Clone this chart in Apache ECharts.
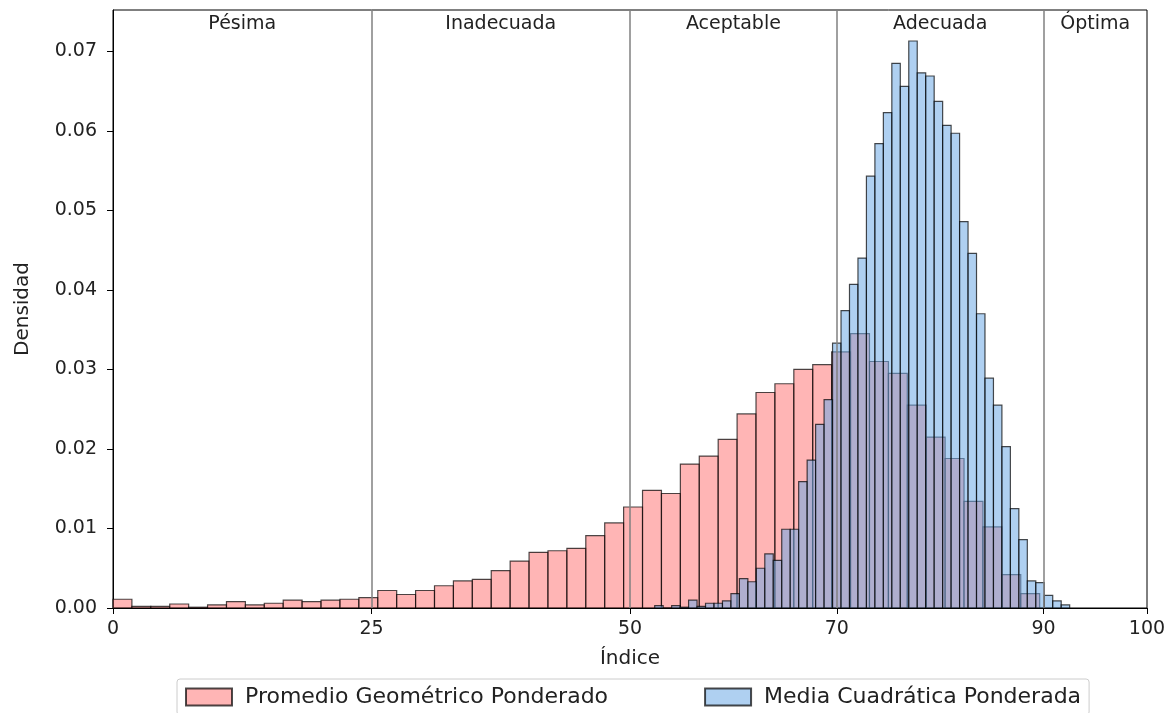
<!DOCTYPE html>
<html>
<head>
<meta charset="utf-8">
<title>Densidad por índice</title>
<script src="https://cdn.jsdelivr.net/npm/echarts@6/dist/echarts.min.js"></script>
<style>
  html, body { margin: 0; padding: 0; background: #fff; }
  #chart { width: 1175px; height: 713px; }
</style>
</head>
<body>
<div id="chart"></div>
<script>
var xTicks = [0, 25, 50, 70, 90, 100];
var yTicks = [0, 0.01, 0.02, 0.03, 0.04, 0.05, 0.06, 0.07];
var bandLimits = [25, 50, 70, 90];
var bandNames = ['Pésima', 'Inadecuada', 'Aceptable', 'Adecuada', 'Óptima'];
var bandCenters = [12.5, 37.5, 60, 80, 95];

// histograma rojo
var geoName = 'Promedio Geométrico Ponderado';
var geoStart = 0;
var geoWidth = 1.829;
var geoDensity = [
    0.0011, 0.0002, 0.0002, 0.0005, 0.0001, 0.0004, 0.0008, 0.0004, 0.0006, 0.0010,
    0.0008, 0.0010, 0.0011, 0.0013, 0.0022, 0.0017, 0.0022, 0.0028, 0.0034, 0.0036,
    0.0047, 0.0059, 0.0070, 0.0072, 0.0075, 0.0091, 0.0107, 0.0127, 0.0148, 0.0144,
    0.0181, 0.0191, 0.0212, 0.0244, 0.0271, 0.0282, 0.0300, 0.0306, 0.0322, 0.0345,
    0.0310, 0.0295, 0.0255, 0.0215, 0.0188, 0.0134, 0.0102, 0.0042, 0.0018
];

// histograma azul
var quadName = 'Media Cuadrática Ponderada';
var quadStart = 52.39;
var quadWidth = 0.819;
var quadDensity = [
    0.0003, 0.0000, 0.0003, 0.0001, 0.0010, 0.0002, 0.0006, 0.0006, 0.0009, 0.0018,
    0.0037, 0.0033, 0.0050, 0.0068, 0.0060, 0.0099, 0.0099, 0.0159, 0.0186, 0.0231,
    0.0262, 0.0333, 0.0374, 0.0407, 0.0440, 0.0543, 0.0584, 0.0623, 0.0685, 0.0656,
    0.0713, 0.0673, 0.0669, 0.0637, 0.0607, 0.0597, 0.0486, 0.0446, 0.0370, 0.0289,
    0.0255, 0.0203, 0.0125, 0.0086, 0.0034, 0.0032, 0.0016, 0.0009, 0.0004
];

var font = 'DejaVu Sans';
var edge = 'rgba(0,0,0,0.7)';

function toBins(start, width, values) {
    return values.map(function (v, i) {
        return [start + i * width, start + (i + 1) * width, v];
    });
}

function barItem(fill) {
    return function (params, api) {
        var p0 = api.coord([api.value(0), 0]);
        var p1 = api.coord([api.value(1), api.value(2)]);
        return {
            type: 'rect',
            shape: { x: p0[0], y: p1[1], width: p1[0] - p0[0], height: p0[1] - p1[1] },
            style: { fill: fill, stroke: edge, lineWidth: 1.2 }
        };
    };
}

var myChart = echarts.init(document.getElementById('chart'));

var option = {
    animation: false,
    grid: {
        left: 113, right: 28, top: 10, bottom: 105,
        show: true, borderColor: '#000', borderWidth: 1
    },
    legend: {
        left: 177, top: 679,
        padding: [7, 8],
        itemWidth: 46, itemHeight: 17, itemGap: 96,
        borderColor: '#ccc', borderWidth: 1, borderRadius: 3,
        icon: 'rect',
        textStyle: { fontFamily: font, fontSize: 22, color: '#222', padding: [0, 0, 0, 8] },
        data: [geoName, quadName]
    },
    xAxis: {
        type: 'value', min: 0, max: 100,
        name: 'Índice', nameLocation: 'middle', nameGap: 41,
        nameTextStyle: { fontFamily: font, fontSize: 20, color: '#222' },
        splitLine: { show: false },
        axisLine: { lineStyle: { color: '#000', width: 1 } },
        axisTick: { customValues: xTicks, length: 6, inside: false, lineStyle: { color: '#000' } },
        axisLabel: { customValues: xTicks, margin: 12, fontFamily: font, fontSize: 19, color: '#222' }
    },
    yAxis: {
        type: 'value', min: 0, max: 0.0752,
        name: 'Densidad', nameLocation: 'middle', nameGap: 80, nameRotate: 90,
        nameTextStyle: { fontFamily: font, fontSize: 20, color: '#222' },
        splitLine: { show: false },
        axisLine: { show: true, lineStyle: { color: '#000', width: 1 } },
        axisTick: { show: true, customValues: yTicks, length: 6, lineStyle: { color: '#000' } },
        axisLabel: {
            customValues: yTicks, margin: 16, fontFamily: font, fontSize: 19, color: '#222',
            formatter: function (v) { return v.toFixed(2); }
        }
    },
    series: [
        {
            name: geoName,
            type: 'custom',
            renderItem: barItem('rgba(255,120,120,0.55)'),
            itemStyle: { color: 'rgba(255,120,120,0.55)', borderColor: edge, borderWidth: 1.2 },
            encode: { x: [0, 1], y: 2 },
            data: toBins(geoStart, geoWidth, geoDensity),
            z: 2
        },
        {
            name: quadName,
            type: 'custom',
            renderItem: barItem('rgba(110,170,230,0.55)'),
            itemStyle: { color: 'rgba(110,170,230,0.55)', borderColor: edge, borderWidth: 1.2 },
            encode: { x: [0, 1], y: 2 },
            data: toBins(quadStart, quadWidth, quadDensity),
            z: 3
        },
        {
            name: 'bandas',
            type: 'custom',
            silent: true,
            z: 10,
            renderItem: function (params, api) {
                var p = api.coord([api.value(0), 0]);
                return {
                    type: 'text',
                    x: p[0],
                    y: params.coordSys.y + 5,
                    style: {
                        text: bandNames[params.dataIndex],
                        align: 'center', verticalAlign: 'top',
                        fontFamily: font, fontSize: 19, fill: '#222'
                    }
                };
            },
            encode: { x: 0, y: 1 },
            data: bandCenters.map(function (c) { return [c, 0]; }),
            markLine: {
                silent: true,
                symbol: ['none', 'none'],
                label: { show: false },
                lineStyle: { color: '#808080', width: 1.5, type: 'solid' },
                data: bandLimits.map(function (v) { return { xAxis: v }; })
            }
        }
    ]
};

myChart.setOption(option);
</script>
</body>
</html>
